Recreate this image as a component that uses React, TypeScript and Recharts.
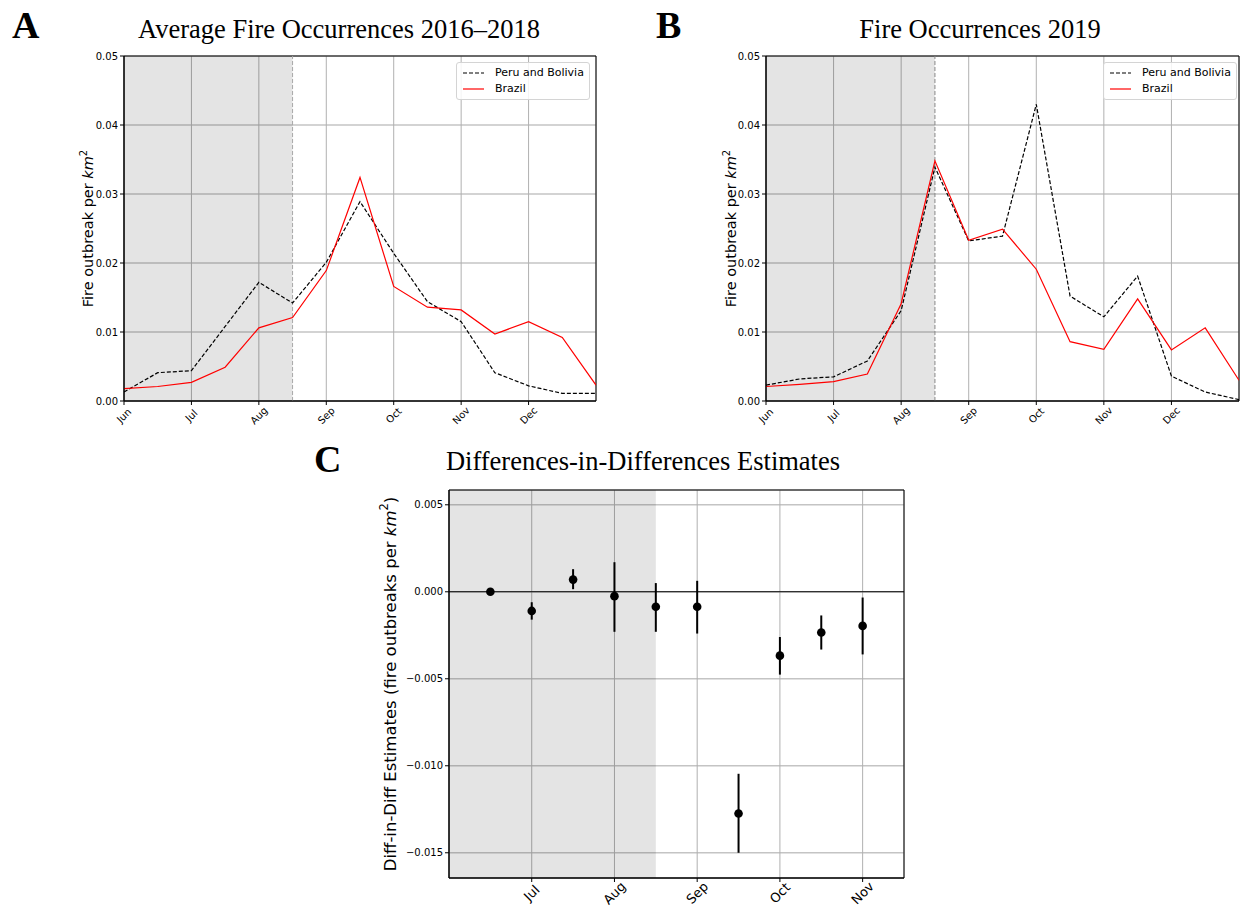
import React from "react";
import {
  ComposedChart,
  Line,
  Scatter,
  ErrorBar,
  XAxis,
  YAxis,
  CartesianGrid,
  ReferenceArea,
  ReferenceLine,
  Legend,
} from "recharts";

// month ticks (0 = 1 June)
const months = ["Jun", "Jul", "Aug", "Sep", "Oct", "Nov", "Dec"];
const monthTicks = [0, 1, 2, 3, 4, 5, 6];
// half-month sample positions
const halfMonthPos = [0, 0.5, 1, 1.5, 2, 2.5, 3, 3.5, 4, 4.5, 5, 5.5, 6, 6.5, 7];

// panel A: average 2016-2018
const avgPeruBolivia = [0.0013, 0.0041, 0.0044, 0.0108, 0.0172, 0.0142, 0.0201, 0.0289, 0.0214, 0.0144, 0.0115, 0.0041, 0.0022, 0.0011, 0.0011];
const avgBrazil = [0.0018, 0.0021, 0.0027, 0.0049, 0.0106, 0.0121, 0.0189, 0.0324, 0.0166, 0.0136, 0.0132, 0.0097, 0.0115, 0.0092, 0.0023];

// panel B: 2019
const peruBolivia2019 = [0.0023, 0.0032, 0.0035, 0.0058, 0.0131, 0.0339, 0.0232, 0.0239, 0.043, 0.0152, 0.0122, 0.0181, 0.0036, 0.0013, 0.0002];
const brazil2019 = [0.0021, 0.0024, 0.0028, 0.0039, 0.0141, 0.0348, 0.0233, 0.0249, 0.0191, 0.0086, 0.0075, 0.0148, 0.0074, 0.0106, 0.003];

const fireTicks = [0, 0.01, 0.02, 0.03, 0.04, 0.05];

// panel C: diff-in-diff estimates with confidence bounds
const didPos = [0.5, 1, 1.5, 2, 2.5, 3, 3.5, 4, 4.5, 5];
const didEstimate = [0, -0.0011, 0.0007, -0.00025, -0.00086, -0.00086, -0.01274, -0.00367, -0.00234, -0.00196];
const didLow = [0, -0.0016, 0.00015, -0.0023, -0.0023, -0.0024, -0.015, -0.00476, -0.00332, -0.0036];
const didHigh = [0, -0.0006, 0.0013, 0.0017, 0.0005, 0.00063, -0.01046, -0.0026, -0.00136, -0.00033];
const didTicks = [-0.015, -0.01, -0.005, 0, 0.005];
const didMonthTicks = [1, 2, 3, 4, 5];

const SANS = "DejaVu Sans";
const SERIF = "Liberation Serif";

const MonthTick = (props: any) => {
  const { x, y, payload, size, drop } = props;
  const cy = y + drop;
  return (
    <text
      x={x}
      y={cy}
      transform={`rotate(-45 ${x} ${cy})`}
      textAnchor="middle"
      dominantBaseline="central"
      fontSize={size}
      fontFamily={SANS}
      fill="#000"
    >
      {months[payload.value]}
    </text>
  );
};

const FireLegend = () => (
  <div
    style={{
      border: "1px solid #d4d4d4",
      borderRadius: 3,
      background: "rgba(255,255,255,0.85)",
      padding: "2px 5px 2px 6px",
      fontFamily: SANS,
      fontSize: 11,
      lineHeight: "16px",
      color: "#000",
    }}
  >
    <div style={{ display: "flex", alignItems: "center" }}>
      <svg width={21} height={4}>
        <line x1={0} x2={21} y1={2} y2={2} stroke="#000" strokeWidth={1.2} strokeDasharray="4 2" />
      </svg>
      <span style={{ marginLeft: 11 }}>Peru and Bolivia</span>
    </div>
    <div style={{ display: "flex", alignItems: "center" }}>
      <svg width={21} height={4}>
        <line x1={0} x2={21} y1={2} y2={2} stroke="#ff0000" strokeWidth={1.2} />
      </svg>
      <span style={{ marginLeft: 11 }}>Brazil</span>
    </div>
  </div>
);

type PanelProps = {
  left: number;
  marginLeft: number;
  marginRight: number;
  width: number;
  peru: number[];
  brazil: number[];
  legendLeft: number;
  cutColor: string;
};

const FirePanel = ({ left, marginLeft, marginRight, width, peru, brazil, legendLeft, cutColor }: PanelProps) => {
  const data = halfMonthPos.map((x, i) => ({ x, peru: peru[i], brazil: brazil[i] }));
  return (
    <div style={{ position: "absolute", left, top: 0 }}>
      <ComposedChart
        width={width}
        height={440}
        data={data}
        margin={{ top: 56, right: marginRight, bottom: 9, left: marginLeft }}
      >
        <ReferenceArea x1={0} x2={2.5} fill="#000" fillOpacity={0.105} stroke="none" ifOverflow="hidden" />
        <CartesianGrid vertical={false} stroke="#c4c4c4" strokeWidth={1.4} />
        <CartesianGrid horizontal={false} stroke="#b0b0b0" strokeWidth={1} />
        <XAxis
          type="number"
          dataKey="x"
          domain={[0, 7]}
          ticks={monthTicks}
          allowDataOverflow
          height={30}
          axisLine={{ stroke: "#000" }}
          tickLine={{ stroke: "#000" }}
          tickSize={4}
          tick={(p: any) => <MonthTick {...p} size={10} drop={8.5} />}
        />
        <YAxis
          type="number"
          domain={[0, 0.05]}
          ticks={fireTicks}
          allowDataOverflow
          width={50}
          axisLine={{ stroke: "#000" }}
          tickLine={{ stroke: "#000" }}
          tickSize={4}
          tick={{ fontSize: 10, fontFamily: SANS, fill: "#000" }}
          tickFormatter={(v: number) => v.toFixed(2)}
        />
        <ReferenceLine x={2.5} stroke={cutColor} strokeWidth={1} strokeDasharray="4 2" />
        <Line
          type="linear"
          dataKey="peru"
          stroke="#000"
          strokeWidth={1.2}
          strokeDasharray="4 2"
          dot={false}
          isAnimationActive={false}
        />
        <Line
          type="linear"
          dataKey="brazil"
          stroke="#ff0000"
          strokeWidth={1.2}
          dot={false}
          isAnimationActive={false}
        />
        <ReferenceArea x1={0} x2={7} y1={0} y2={0.05} fill="none" stroke="#000" strokeWidth={1} />
        <Legend
          layout="horizontal"
          verticalAlign="middle"
          content={<FireLegend />}
          wrapperStyle={{ position: "absolute", left: legendLeft, top: 62, width: "auto" }}
        />
      </ComposedChart>
    </div>
  );
};

const Dot = (p: any) => <circle cx={p.cx} cy={p.cy} r={4.3} fill="#000" />;

const DidPanel = () => {
  const data = didPos.map((x, i) => ({
    x,
    est: didEstimate[i],
    err: [didEstimate[i] - didLow[i], didHigh[i] - didEstimate[i]],
  }));
  return (
    <div style={{ position: "absolute", left: 300, top: 440 }}>
      <ComposedChart width={620} height={472} data={data} margin={{ top: 50, right: 16, bottom: 4, left: 94 }}>
        <ReferenceArea x1={0} x2={2.5} fill="#000" fillOpacity={0.105} stroke="none" ifOverflow="hidden" />
        <CartesianGrid vertical={false} stroke="#c4c4c4" strokeWidth={1.4} />
        <CartesianGrid horizontal={false} stroke="#b0b0b0" strokeWidth={1} />
        <XAxis
          type="number"
          dataKey="x"
          domain={[0, 5.5]}
          ticks={didMonthTicks}
          allowDataOverflow
          height={30}
          axisLine={{ stroke: "#000" }}
          tickLine={{ stroke: "#000" }}
          tickSize={4}
          tick={(p: any) => <MonthTick {...p} size={13} drop={9} />}
        />
        <YAxis
          type="number"
          domain={[-0.01645, 0.00585]}
          ticks={didTicks}
          allowDataOverflow
          width={55}
          axisLine={{ stroke: "#000" }}
          tickLine={{ stroke: "#000" }}
          tickSize={4}
          tick={{ fontSize: 10, fontFamily: SANS, fill: "#000" }}
          tickFormatter={(v: number) => v.toFixed(3).replace("-", "\u2212")}
        />
        <ReferenceLine y={0} stroke="#000" strokeWidth={1.1} />
        <Scatter dataKey="est" fill="#000" shape={Dot} isAnimationActive={false}>
          <ErrorBar dataKey="err" direction="y" width={0} stroke="#000" strokeWidth={2} />
        </Scatter>
        <ReferenceArea x1={0} x2={5.5} y1={-0.01645} y2={0.00585} fill="none" stroke="#000" strokeWidth={1} />
      </ComposedChart>
    </div>
  );
};

const Labels = () => (
  <svg
    width={1243}
    height={912}
    style={{ position: "absolute", left: 0, top: 0, pointerEvents: "none" }}
  >
    <g fontFamily={SERIF} fill="#000">
      <text x={12} y={38} fontSize={38} fontWeight="bold">A</text>
      <text x={339} y={38} fontSize={26.5} textAnchor="middle">Average Fire Occurrences 2016–2018</text>
      <text x={656} y={38} fontSize={38} fontWeight="bold">B</text>
      <text x={980} y={38} fontSize={26.5} textAnchor="middle">Fire Occurrences 2019</text>
      <text x={314} y={472} fontSize={38} fontWeight="bold">C</text>
      <text x={643} y={470} fontSize={26.5} textAnchor="middle">Differences-in-Differences Estimates</text>
    </g>
    <g fontFamily={SANS} fill="#000">
      <text x={88} y={228.5} fontSize={14.5} textAnchor="middle" dominantBaseline="central" transform="rotate(-90 88 228.5)">
        Fire outbreak per <tspan fontStyle="italic">km</tspan>
        <tspan dy={-5} fontSize={10}>2</tspan>
      </text>
      <text x={731} y={228.5} fontSize={14.5} textAnchor="middle" dominantBaseline="central" transform="rotate(-90 731 228.5)">
        Fire outbreak per <tspan fontStyle="italic">km</tspan>
        <tspan dy={-5} fontSize={10}>2</tspan>
      </text>
      <text x={390} y={684} fontSize={16.5} textAnchor="middle" dominantBaseline="central" transform="rotate(-90 390 684)">
        Diff-in-Diff Estimates (fire outbreaks per <tspan fontStyle="italic">km</tspan>
        <tspan dy={-6} fontSize={11.5}>2</tspan>
        <tspan dy={6}>)</tspan>
      </text>
    </g>
  </svg>
);

export default function App() {
  return (
    <div style={{ position: "absolute", left: 0, top: 0, width: 1243, height: 912, background: "#fff" }}>
      <FirePanel
        left={0}
        width={620}
        marginLeft={74}
        marginRight={24}
        peru={avgPeruBolivia}
        brazil={avgBrazil}
        legendLeft={456}
        cutColor="#a8a8a8"
      />
      <FirePanel
        left={640}
        width={603}
        marginLeft={76}
        marginRight={4}
        peru={peruBolivia2019}
        brazil={brazil2019}
        legendLeft={463}
        cutColor="#888888"
      />
      <DidPanel />
      <Labels />
    </div>
  );
}
